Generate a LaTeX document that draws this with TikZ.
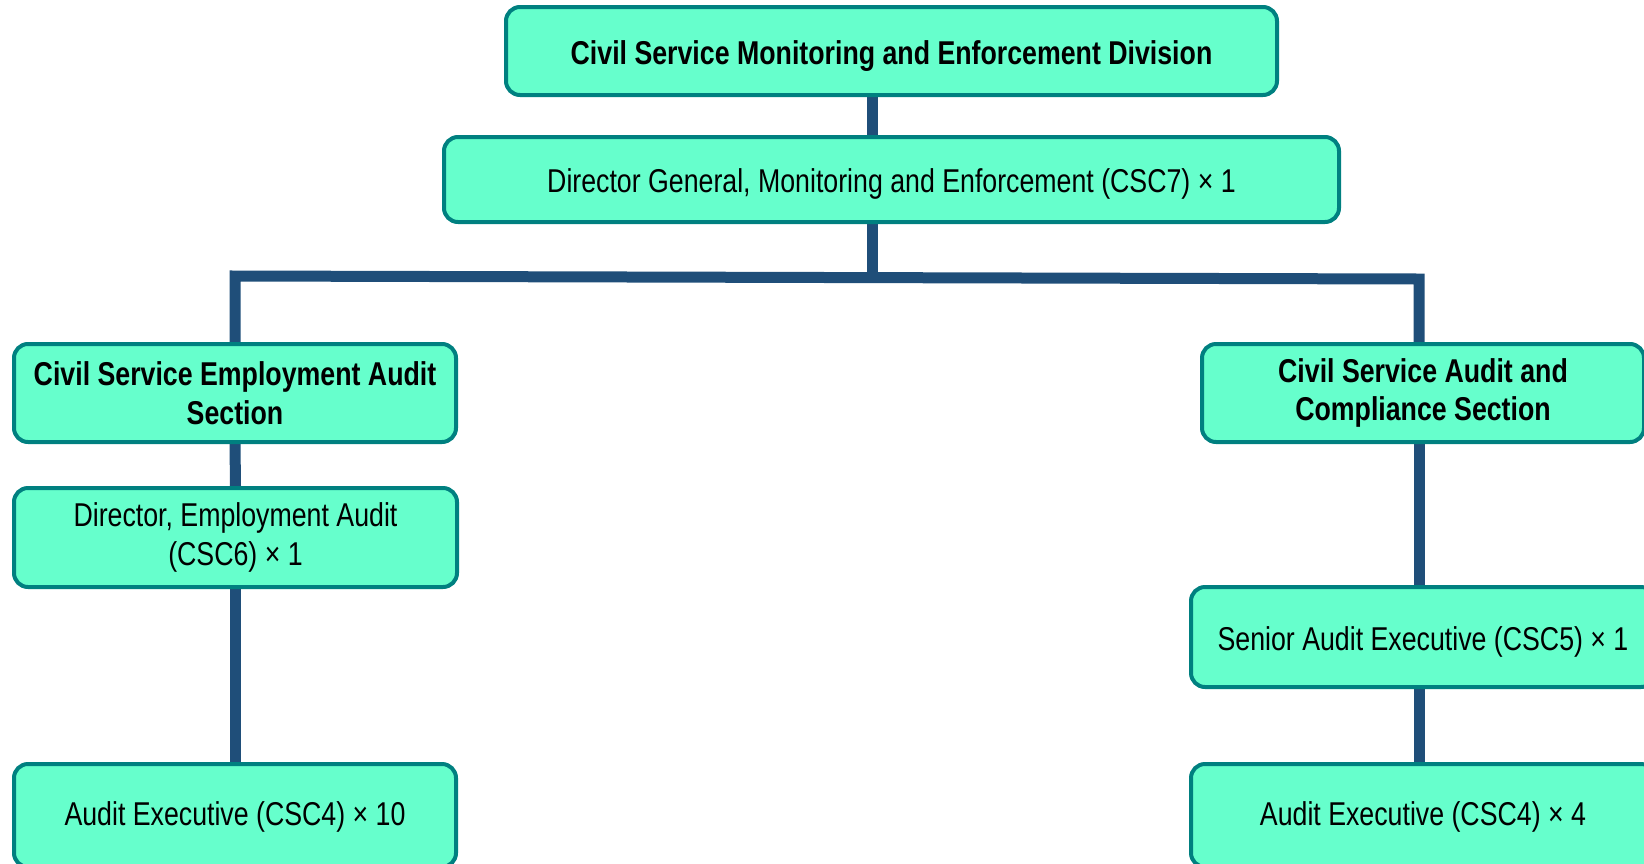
\documentclass[tikz,border=0pt]{standalone}
\usepackage{fontspec}
\setmainfont{Liberation Sans}[FakeStretch=0.81]
\usetikzlibrary{backgrounds}
\definecolor{boxfill}{RGB}{102,255,204}
\definecolor{boxline}{RGB}{0,128,128}
\definecolor{conn}{RGB}{31,78,121}
\begin{document}
\begin{tikzpicture}[x=0.5pt,y=-0.5pt,
  box/.style={draw=boxline, line width=2pt, fill=boxfill, rounded corners=7pt,
    align=center, inner sep=0pt, font=\fontsize{16.5}{19.25}\selectfont},
  boldbox/.style={box, font=\fontsize{16.5}{19.25}\selectfont\bfseries},
  oneline/.style={text height=13.3pt, text depth=0pt},
  lowline/.style={text height=10.3pt, text depth=0pt},
  link/.style={draw=conn, line width=5.5pt}]
\useasboundingbox (0,0) rectangle (1644,863);
\node[boldbox,oneline,minimum width=385.5pt,minimum height=44pt] (top) at (891.5,51) {Civil Service Monitoring and Enforcement Division};
\node[box,oneline,minimum width=447.5pt,minimum height=42.5pt] (dg) at (891.5,179.5) {Director General, Monitoring and Enforcement (CSC7) × 1};
\node[boldbox,minimum width=221pt,minimum height=49pt] (lsec) at (235,393) {Civil Service Employment Audit\\Section};
\node[box,minimum width=221.5pt,minimum height=49.5pt] (dir) at (235.5,537.5) {Director, Employment Audit\\(CSC6) × 1};
\node[box,lowline,minimum width=221pt,minimum height=51.5pt] (lae) at (235,815.5) {Audit Executive (CSC4) × 10};
\node[boldbox,minimum width=221pt,minimum height=49pt] (rsec) at (1423,393) {Civil Service Audit and\\Compliance Section};
\node[box,oneline,minimum width=232pt,minimum height=50pt] (sen) at (1423,637) {Senior Audit Executive (CSC5) × 1};
\node[box,lowline,minimum width=232pt,minimum height=51.5pt] (rae) at (1423,815.5) {Audit Executive (CSC4) × 4};
\coordinate (trunk) at (872,277);
\coordinate (lb) at (235,276);
\coordinate (rb) at (1419,279);
\begin{pgfonlayer}{background}
\draw[link] (top.south -| trunk) -- (dg.north -| trunk);
\draw[link] (dg.south -| trunk) -- (trunk);
\draw[link] (lsec.north) -- (lb) -- (rb) -- (rsec.north -| rb);
\draw[link] (lsec.south) -- (dir.north);
\draw[link] (dir.south -| lb) -- (lae.north -| lb);
\draw[link] (rsec.south -| rb) -- (sen.north -| rb);
\draw[link] (sen.south -| rb) -- (rae.north -| rb);
\end{pgfonlayer}
\end{tikzpicture}
\end{document}
